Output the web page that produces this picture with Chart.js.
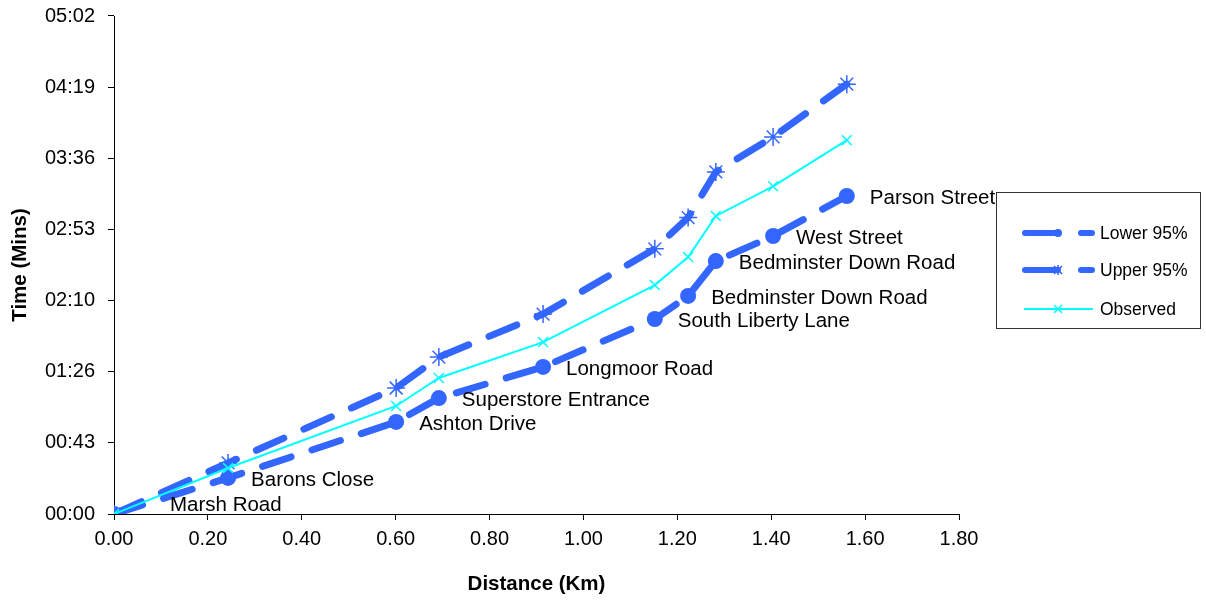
<!DOCTYPE html>
<html>
<head>
<meta charset="utf-8">
<title>Bus journey time</title>
<script src="https://cdn.jsdelivr.net/npm/chart.js@4/dist/chart.umd.min.js"></script>
<style>
  body { margin: 0; background: #fff; }
  canvas { display: block; }
</style>
</head>
<body>
<canvas id="chart" width="1206" height="601"></canvas>
<script>
// distances in km, times in seconds
const distances = [0, 0.243, 0.601, 0.692, 0.914, 1.152, 1.223, 1.282, 1.404, 1.561];
const stopNames = ['Marsh Road', 'Barons Close', 'Ashton Drive', 'Superstore Entrance', 'Longmoor Road',
  'South Liberty Lane', 'Bedminster Down Road', 'Bedminster Down Road', 'West Street', 'Parson Street'];
const lower95 = [0, 21.9, 55.9, 70.4, 89.3, 118.4, 132.4, 153.6, 168.8, 193.1];
const upper95 = [0, 31, 76.5, 95.3, 121.4, 161, 180, 207.7, 229, 261];
const observed = [0, 27.9, 65.6, 82.6, 104.4, 139, 156, 181, 199, 227];
const xTicks = [0, 0.2, 0.4, 0.6, 0.8, 1.0, 1.2, 1.4, 1.6, 1.8];
const yTickLabels = ['00:00', '00:43', '01:26', '02:10', '02:53', '03:36', '04:19', '05:02'];

const blue = 'rgb(51,102,255)';
const cyan = 'rgb(0,255,255)';
const FONT = 'Arial, "Liberation Sans", sans-serif';

function toPoints(ys) {
  return distances.map((d, i) => ({ x: d, y: ys[i] }));
}

// names next to the lower 95% points
const stopLabels = {
  id: 'stopLabels',
  afterDatasetsDraw(chart) {
    const ctx = chart.ctx;
    const xs = chart.scales.x, ys = chart.scales.y;
    ctx.save();
    ctx.font = '20.5px ' + FONT;
    ctx.fillStyle = '#000';
    ctx.textBaseline = 'middle';
    stopNames.forEach((name, i) => {
      let px = xs.getPixelForValue(distances[i]);
      let py = ys.getPixelForValue(lower95[i]);
      if (i === 0) { px += 56; py -= 9; }
      else { px += 23; py += 2; }
      ctx.fillText(name, px, py);
    });
    ctx.restore();
  }
};

// boxed legend on the right
const boxLegend = {
  id: 'boxLegend',
  afterDraw(chart) {
    const ctx = chart.ctx;
    ctx.save();
    ctx.strokeStyle = '#333';
    ctx.lineWidth = 1;
    ctx.strokeRect(996.5, 192.5, 204, 136);
    const rows = [
      { text: 'Lower 95%', y: 233, kind: 'lower' },
      { text: 'Upper 95%', y: 270, kind: 'upper' },
      { text: 'Observed', y: 309, kind: 'obs' }
    ];
    rows.forEach(r => {
      if (r.kind === 'obs') {
        ctx.strokeStyle = cyan;
        ctx.lineWidth = 2;
        ctx.beginPath(); ctx.moveTo(1024, r.y); ctx.lineTo(1093, r.y); ctx.stroke();
        ctx.lineWidth = 1.5;
        ctx.beginPath();
        ctx.moveTo(1054, r.y - 4); ctx.lineTo(1062, r.y + 4);
        ctx.moveTo(1054, r.y + 4); ctx.lineTo(1062, r.y - 4);
        ctx.stroke();
      } else {
        ctx.strokeStyle = blue;
        ctx.fillStyle = blue;
        ctx.lineCap = 'round';
        ctx.lineWidth = 6;
        ctx.beginPath(); ctx.moveTo(1025, r.y); ctx.lineTo(1058, r.y); ctx.stroke();
        ctx.beginPath(); ctx.moveTo(1081, r.y); ctx.lineTo(1092, r.y); ctx.stroke();
        if (r.kind === 'lower') {
          ctx.beginPath(); ctx.arc(1058, r.y, 4, 0, Math.PI * 2); ctx.fill();
        } else {
          ctx.lineWidth = 1.5; ctx.lineCap = 'butt';
          ctx.beginPath();
          ctx.moveTo(1058, r.y - 5); ctx.lineTo(1058, r.y + 5);
          ctx.moveTo(1054, r.y - 4); ctx.lineTo(1062, r.y + 4);
          ctx.moveTo(1054, r.y + 4); ctx.lineTo(1062, r.y - 4);
          ctx.stroke();
        }
      }
      ctx.fillStyle = '#000';
      ctx.font = '17.5px ' + FONT;
      ctx.textBaseline = 'middle';
      ctx.fillText(r.text, 1100, r.y + 1);
    });
    ctx.restore();
  }
};

new Chart(document.getElementById('chart'), {
  type: 'line',
  data: {
    datasets: [{
      label: 'Lower 95%',
      data: toPoints(lower95),
      borderColor: blue,
      backgroundColor: blue,
      borderWidth: 7,
      borderDash: [30, 22],
      borderCapStyle: 'round',
      pointStyle: 'circle',
      pointRadius: 8,
      pointBorderWidth: 0,
      tension: 0,
      order: 3
    }, {
      label: 'Upper 95%',
      data: toPoints(upper95),
      borderColor: blue,
      backgroundColor: blue,
      borderWidth: 7,
      borderDash: [30, 22],
      borderCapStyle: 'round',
      pointStyle: 'star',
      pointRadius: 9,
      pointBorderWidth: 1.5,
      tension: 0,
      order: 2
    }, {
      label: 'Observed',
      data: toPoints(observed),
      borderColor: cyan,
      backgroundColor: cyan,
      borderWidth: 2,
      pointStyle: 'crossRot',
      pointRadius: 7,
      pointBorderWidth: 1.5,
      tension: 0,
      order: 1
    }]
  },
  options: {
    responsive: false,
    animation: false,
    layout: { padding: { left: 0, right: 247, top: 16, bottom: 0 } },
    plugins: {
      legend: { display: false },
      tooltip: { enabled: false }
    },
    scales: {
      x: {
        type: 'linear',
        min: 0,
        max: 1.8,
        afterFit(scale) {
          scale.height = 87;
          scale.paddingLeft = 0;
          scale.paddingRight = 0;
        },
        afterBuildTicks(scale) { scale.ticks = xTicks.map(v => ({ value: v })); },
        ticks: {
          color: '#000',
          font: { family: FONT, size: 20 },
          padding: 7,
          maxRotation: 0,
          callback: v => v.toFixed(2)
        },
        grid: { drawOnChartArea: false, drawTicks: true, tickLength: 6, color: '#000' },
        border: { color: '#000', width: 1 },
        title: {
          display: true,
          text: 'Distance (Km)',
          color: '#000',
          font: { family: FONT, size: 20.5, weight: 'bold' },
          padding: { top: 12 }
        }
      },
      y: {
        type: 'linear',
        min: 0,
        max: 302.4,
        afterFit(scale) {
          scale.width = 114;
          scale.paddingTop = 0;
          scale.paddingBottom = 0;
        },
        afterBuildTicks(scale) { scale.ticks = yTickLabels.map((t, i) => ({ value: i * 43.2 })); },
        ticks: {
          color: '#000',
          font: { family: FONT, size: 20 },
          padding: 13,
          callback: (v, i) => yTickLabels[i]
        },
        grid: { drawOnChartArea: false, drawTicks: true, tickLength: 6, color: '#000' },
        border: { color: '#000', width: 1 },
        title: {
          display: true,
          text: 'Time (Mins)',
          color: '#000',
          font: { family: FONT, size: 20.5, weight: 'bold' },
          padding: { top: 8, bottom: 0 }
        }
      }
    }
  },
  plugins: [stopLabels, boxLegend]
});
</script>
</body>
</html>
